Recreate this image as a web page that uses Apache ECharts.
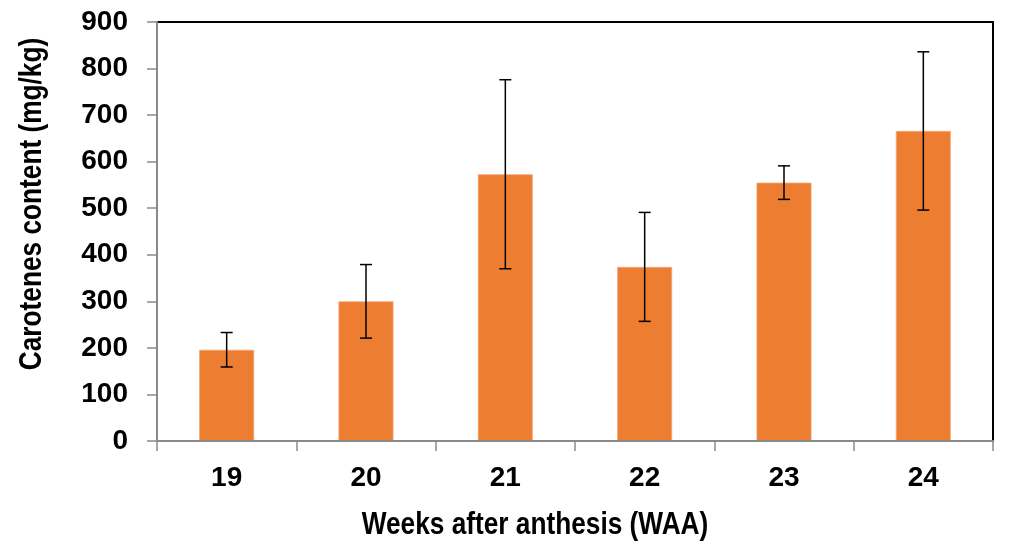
<!DOCTYPE html>
<html>
<head>
<meta charset="utf-8">
<script src="https://cdn.jsdelivr.net/npm/echarts@6/dist/echarts.min.js"></script>
<style>
  html, body { margin: 0; padding: 0; background: #fff; }
  #chart { width: 1025px; height: 549px; }
</style>
</head>
<body>
<div id="chart"></div>
<script>
// Carotenes content by week after anthesis, mean ± error
const weeks = ['19', '20', '21', '22', '23', '24'];
const carotenes = [196, 300, 573, 374, 555, 666];
const errors = [37, 79, 203, 117, 36, 170];
const yTicks = { min: 0, max: 900, interval: 100 };

const FONT = '"Liberation Sans Narrow", "Arial Narrow", "Liberation Sans", Arial, sans-serif';
// narrow look for the titles when only the regular width face is present
const NARROW = 0.82;

const chart = echarts.init(document.getElementById('chart'), null, { renderer: 'canvas' });

const errorData = weeks.map((w, i) => [i, carotenes[i] - errors[i], carotenes[i] + errors[i]]);

chart.setOption({
  animation: false,
  backgroundColor: '#fff',
  grid: {
    left: 157, right: 32, top: 22, bottom: 108,
    show: true, borderColor: '#000', borderWidth: 2, backgroundColor: 'transparent'
  },
  xAxis: {
    type: 'category',
    data: weeks,
    boundaryGap: true,
    axisLine: { show: true, lineStyle: { color: '#8a8a8a', width: 2 } },
    axisTick: { show: true, alignWithLabel: false, length: 10, lineStyle: { color: '#8a8a8a', width: 1.5 } },
    axisLabel: { color: '#000', fontFamily: FONT, fontWeight: 'bold', fontSize: 28, margin: 23 },
    splitLine: { show: false },
    z: 5
  },
  yAxis: {
    type: 'value',
    min: yTicks.min, max: yTicks.max, interval: yTicks.interval,
    axisLine: { show: true, lineStyle: { color: '#8a8a8a', width: 2 } },
    axisTick: { show: true, length: 10, lineStyle: { color: '#8a8a8a', width: 1.5 } },
    axisLabel: { color: '#000', fontFamily: FONT, fontWeight: 'bold', fontSize: 28, margin: 29 },
    splitLine: { show: false },
    z: 5
  },
  graphic: [
    {
      type: 'text', x: 32, y: 204, rotation: Math.PI / 2, scaleX: NARROW,
      style: {
        text: 'Carotenes content (mg/kg)', fill: '#000',
        font: 'bold 32px ' + FONT, align: 'center', verticalAlign: 'middle'
      }
    },
    {
      type: 'text', x: 535, y: 525, scaleX: NARROW,
      style: {
        text: 'Weeks after anthesis (WAA)', fill: '#000',
        font: 'bold 32px ' + FONT, align: 'center', verticalAlign: 'middle'
      }
    }
  ],
  series: [
    {
      type: 'bar',
      data: carotenes,
      barWidth: 55,
      itemStyle: { color: '#ED7D31', borderColor: '#f4a878', borderWidth: 0.8 },
      z: 2
    },
    {
      type: 'custom',
      data: errorData,
      z: 3,
      renderItem: function (params, api) {
        const x = api.value(0);
        const lo = api.coord([x, api.value(1)]);
        const hi = api.coord([x, api.value(2)]);
        const cap = 6;
        const style = { stroke: '#000', lineWidth: 1.5 };
        return {
          type: 'group',
          children: [
            { type: 'line', shape: { x1: hi[0], y1: hi[1], x2: lo[0], y2: lo[1] }, style: style },
            { type: 'line', shape: { x1: hi[0] - cap, y1: hi[1], x2: hi[0] + cap, y2: hi[1] }, style: style },
            { type: 'line', shape: { x1: lo[0] - cap, y1: lo[1], x2: lo[0] + cap, y2: lo[1] }, style: style }
          ]
        };
      }
    }
  ]
});
</script>
</body>
</html>
